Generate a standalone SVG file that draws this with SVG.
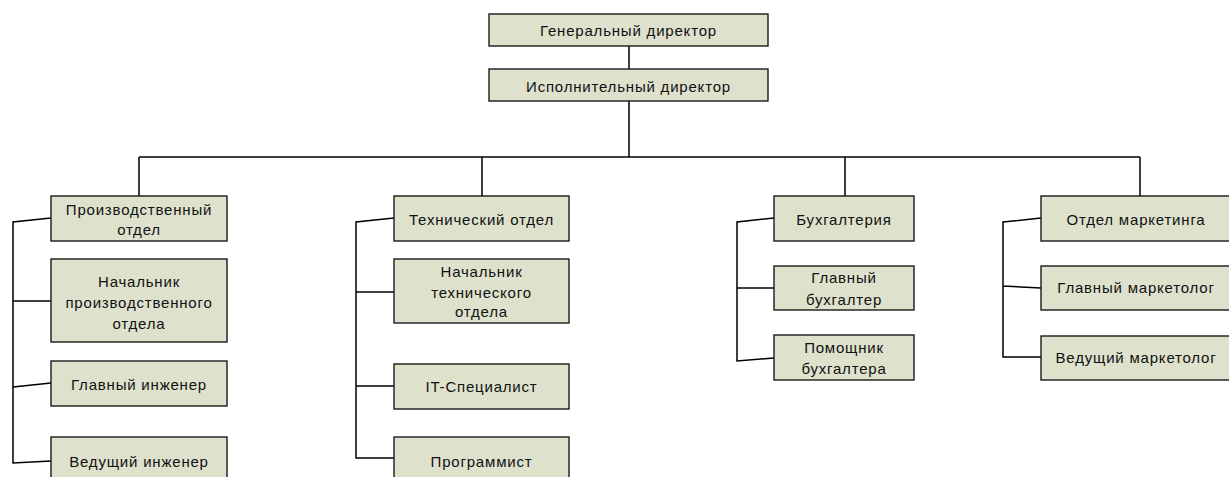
<svg xmlns="http://www.w3.org/2000/svg" width="1229" height="477" viewBox="0 0 1229 477">
<style>
.box{fill:#dee2cd;stroke:#1a1a1a;stroke-width:1.4}
.t{font-family:"Liberation Sans",Arial,sans-serif;font-size:15px;fill:#111;text-anchor:middle;letter-spacing:0.8px}
.c{fill:none;stroke:#000;stroke-width:1.5}
</style>
<rect width="1229" height="477" fill="#fff"/>
<g id="connectors">
<path class="c" d="M629 46V69M629 101V157M139 157H1140M139 157V196M482 157V196M845 157V196M1140 157V196"/>
<path class="c" d="M51 218L13 222V297M13 297V463L51 461M13 301H51M13 387L51 383"/>
<path class="c" d="M394 218L356 222V458H394M356 292H394M356 386H394"/>
<path class="c" d="M774 218L737 222V361L774 358M737 288H774"/>
<path class="c" d="M1041 218L1003 222V357H1041M1003 286L1041 288"/>
</g>
<g id="gen"><rect class="box" x="489" y="14" width="279" height="32"/><text class="t" x="628.5" y="36">Генеральный директор</text></g>
<g id="exec"><rect class="box" x="489" y="69" width="279" height="32"/><text class="t" x="628.5" y="92">Исполнительный директор</text></g>
<g id="prod"><rect class="box" x="51" y="196" width="176" height="45"/><text class="t" x="139" y="215">Производственный</text><text class="t" x="139" y="235">отдел</text></g>
<g id="prod-head"><rect class="box" x="51" y="259" width="176" height="83"/><text class="t" x="139" y="287">Начальник</text><text class="t" x="139" y="308">производственного</text><text class="t" x="139" y="329">отдела</text></g>
<g id="chief-eng"><rect class="box" x="51" y="361" width="176" height="45"/><text class="t" x="139" y="390">Главный инженер</text></g>
<g id="lead-eng"><rect class="box" x="51" y="437" width="176" height="45"/><text class="t" x="139" y="467">Ведущий инженер</text></g>
<g id="tech"><rect class="box" x="394" y="196" width="175" height="45"/><text class="t" x="481.5" y="225">Технический отдел</text></g>
<g id="tech-head"><rect class="box" x="394" y="259" width="175" height="64"/><text class="t" x="481.5" y="277">Начальник</text><text class="t" x="481.5" y="298">технического</text><text class="t" x="481.5" y="317">отдела</text></g>
<g id="it"><rect class="box" x="394" y="364" width="175" height="45"/><text class="t" x="481.5" y="392">IT-Специалист</text></g>
<g id="prog"><rect class="box" x="394" y="437" width="175" height="45"/><text class="t" x="481.5" y="467">Программист</text></g>
<g id="acc"><rect class="box" x="774" y="196" width="140" height="45"/><text class="t" x="844" y="225">Бухгалтерия</text></g>
<g id="chief-acc"><rect class="box" x="774" y="266" width="140" height="44"/><text class="t" x="844" y="283">Главный</text><text class="t" x="844" y="305">бухгалтер</text></g>
<g id="asst-acc"><rect class="box" x="774" y="335" width="140" height="45"/><text class="t" x="844" y="353">Помощник</text><text class="t" x="844" y="374">бухгалтера</text></g>
<g id="mkt"><rect class="box" x="1041" y="196" width="198" height="45"/><text class="t" x="1136" y="225">Отдел маркетинга</text></g>
<g id="chief-mkt"><rect class="box" x="1041" y="266" width="198" height="44"/><text class="t" x="1136" y="293">Главный маркетолог</text></g>
<g id="lead-mkt"><rect class="box" x="1041" y="336" width="198" height="44"/><text class="t" x="1136" y="363">Ведущий маркетолог</text></g>
</svg>
